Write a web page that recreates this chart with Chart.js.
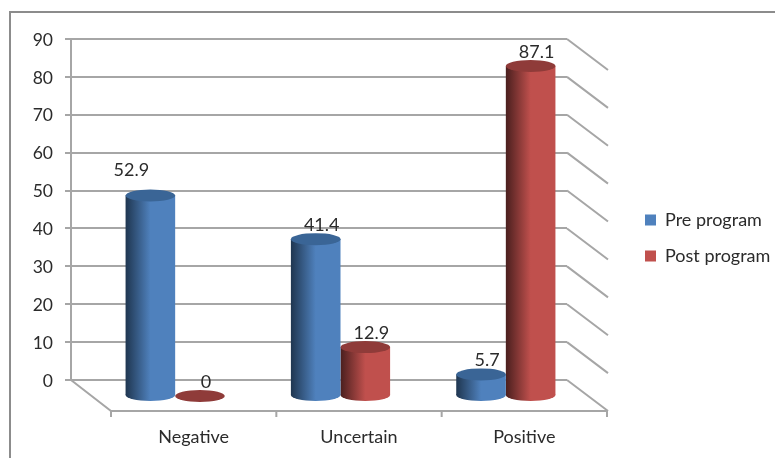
<!DOCTYPE html>
<html>
<head>
<meta charset="utf-8">
<style>html,body{margin:0;padding:0;background:#fff}#w{position:relative;width:775px;height:458px}</style>
<script src="https://cdn.jsdelivr.net/npm/chart.js@4"></script>
</head>
<body>
<div id="w"><canvas id="c" width="775" height="458"></canvas></div>
<script>
const categories = ["Negative", "Uncertain", "Positive"];
const prePost = ["Pre program", "Post program"];
const preValues = [52.9, 41.4, 5.7];
const postValues = [0, 12.9, 87.1];
const yTicks = [0, 10, 20, 30, 40, 50, 60, 70, 80, 90];

const FONT = "Lato";
const TXT = "#2b2b2b";
const GRID = "#a6a6a6";
const DX = 40, DY = 31;
const MID_X = 21.5, MID_Y = 16;
const RY = 6;
const PALETTE = [
  { solid: "#4f81bd", dark: "#1f3650", top: "#3a6596" },
  { solid: "#c0504d", dark: "#4a1f1e", top: "#8f3b39" }
];

const depth3d = {
  id: "depth3d",
  afterUpdate(chart) {
    const l = chart.legend;
    const shiftX = 627 - l.left, shiftY = 238 - (l.top + l.bottom) / 2;
    l.left += shiftX; l.right += shiftX; l.top += shiftY; l.bottom += shiftY;
    l.adjustHitBoxes();
  },
  beforeDraw(chart) {
    const { ctx } = chart;
    ctx.save();
    ctx.strokeStyle = "#8c8c8c";
    ctx.lineWidth = 2;
    ctx.beginPath();
    ctx.moveTo(10, 458); ctx.lineTo(10, 12); ctx.lineTo(775, 12);
    ctx.stroke();
    ctx.restore();
  },
  beforeDatasetsDraw(chart) {
    const { ctx, chartArea: a, scales } = chart;
    const y = scales.y;
    ctx.save();
    ctx.strokeStyle = GRID;
    ctx.lineWidth = 2;
    ctx.beginPath();
    yTicks.forEach(v => {
      const p = y.getPixelForValue(v);
      ctx.moveTo(a.right, p); ctx.lineTo(a.right + DX + 1, p + DY);
    });
    const b = y.getPixelForValue(0);
    ctx.moveTo(a.left, b); ctx.lineTo(a.left + DX, b + DY);
    ctx.lineTo(a.right + DX, b + DY);
    const step = (a.right - a.left) / categories.length;
    for (let i = 0; i <= categories.length; i++) {
      const tx = a.left + DX + step * i;
      ctx.moveTo(tx, b + DY); ctx.lineTo(tx, b + DY + 6);
    }
    ctx.stroke();
    ctx.restore();
  },
  beforeDatasetDraw(chart, args) {
    const { ctx } = chart;
    const pal = PALETTE[args.index];
    ctx.save();
    ctx.translate(MID_X, MID_Y);
    args.meta.data.forEach(el => {
      const left = el.x - el.width / 2, right = el.x + el.width / 2;
      const g = ctx.createLinearGradient(left, 0, right, 0);
      g.addColorStop(0, pal.dark);
      g.addColorStop(0.5, pal.solid);
      g.addColorStop(1, pal.solid);
      el.options = Object.assign({}, el.options, { backgroundColor: g, borderWidth: 0 });
      if (el.base - el.y > 0.5) {
        ctx.fillStyle = g;
        ctx.beginPath();
        ctx.ellipse(el.x, el.base, el.width / 2, RY, 0, 0, Math.PI * 2);
        ctx.fill();
      }
    });
  },
  afterDatasetDraw(chart, args) {
    const { ctx } = chart;
    const pal = PALETTE[args.index];
    args.meta.data.forEach(el => {
      ctx.fillStyle = pal.top;
      ctx.beginPath();
      ctx.ellipse(el.x, el.y, el.width / 2, RY, 0, 0, Math.PI * 2);
      ctx.fill();
    });
    ctx.restore();
  },
  afterDatasetsDraw(chart) {
    const { ctx } = chart;
    ctx.save();
    ctx.fillStyle = TXT;
    ctx.font = "18px " + FONT;
    ctx.textAlign = "center";
    ctx.textBaseline = "middle";
    chart.data.datasets.forEach((ds, di) => {
      chart.getDatasetMeta(di).data.forEach((el, i) => {
        const moved = di === 0 && i === 0;
        const lx = el.x + MID_X + (moved ? -19 : 6);
        const ly = el.y + MID_Y + (moved ? -25 : -14);
        ctx.fillText(String(ds.data[i]), lx, ly);
      });
    });
    ctx.restore();
  }
};

new Chart(document.getElementById("c"), {
  type: "bar",
  data: {
    labels: categories,
    datasets: [
      { label: prePost[0], data: preValues, backgroundColor: PALETTE[0].solid, categoryPercentage: 0.6, barPercentage: 1, clip: false },
      { label: prePost[1], data: postValues, backgroundColor: PALETTE[1].solid, categoryPercentage: 0.6, barPercentage: 1, clip: false }
    ]
  },
  options: {
    responsive: false,
    animation: false,
    layout: { autoPadding: false, padding: { left: 0, top: 39, right: 54.65, bottom: 0 } },
    plugins: {
      tooltip: { enabled: false },
      legend: {
        position: "right",
        labels: { boxWidth: 11, boxHeight: 11, padding: 18, color: TXT, font: { family: FONT, size: 18 } }
      }
    },
    scales: {
      x: {
        grid: { display: false, drawTicks: false },
        border: { display: false },
        ticks: { padding: 46, labelOffset: 40, color: TXT, maxRotation: 0, autoSkip: false, font: { family: FONT, size: 18 } },
        afterFit: s => { s.height = 78; }
      },
      y: {
        min: 0, max: 90,
        grid: { color: GRID, lineWidth: 2, tickLength: 6 },
        border: { color: GRID, width: 2 },
        afterBuildTicks: s => { s.ticks = yTicks.map(v => ({ value: v })); },
        ticks: { padding: 12, labelOffset: 1, color: TXT, font: { family: FONT, size: 17.5 } },
        afterFit: s => { s.width = 71; }
      }
    }
  },
  plugins: [depth3d]
});
</script>
</body>
</html>
